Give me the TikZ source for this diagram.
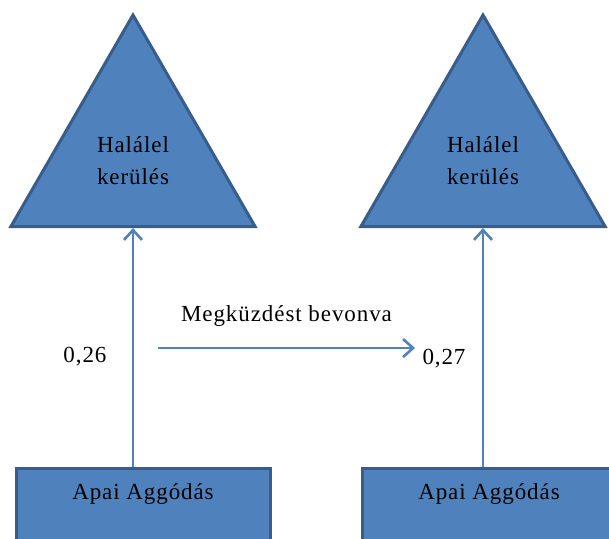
\documentclass[tikz,border=0pt]{standalone}
\usepackage{fontspec}
\setmainfont[LetterSpace=4]{Liberation Serif}
\usepackage{tikz}
\usetikzlibrary{arrows.meta, shapes.geometric}
\definecolor{boxfill}{HTML}{4F81BD}
\definecolor{boxline}{HTML}{385D8A}

\begin{document}
\begin{tikzpicture}[x=0.5pt, y=-0.5pt, font=\fontsize{11.5}{16}\selectfont,
    >={Straight Barb[length=5pt, width=9pt]},
    outcome/.style={regular polygon, regular polygon sides=3, minimum size=141pt,
      inner sep=0pt, draw=boxline, fill=boxfill, line width=1.5pt},
    predictor/.style={rectangle, anchor=north, minimum width=127pt, inner ysep=7pt,
      text height=8.5pt, text depth=30pt, draw=boxline, fill=boxfill, line width=1.5pt},
    path link/.style={->, draw=boxfill, line width=1.3pt}]
  \useasboundingbox (0,0) rectangle (609,538);
  \clip (0,0) rectangle (609,538);
  % top: outcomes
  \node[outcome] (lt) at (133,156) {};
  \node[outcome] (rt) at (483,156) {};
  \node[align=center] (lt text) at (133,161) {Halálel\\kerülés};
  \node[align=center] (rt text) at (483,161) {Halálel\\kerülés};
  % bottom: predictors
  \node[predictor] (lb) at (143,467) {Apai Aggódás};
  \node[predictor] (rb) at (489,467) {Apai Aggódás};
  % paths with coefficients
  \draw[path link] (lb.north -| lt.side 2) -- (lt.side 2);
  \draw[path link] (rb.north -| rt.side 2) -- (rt.side 2);
  \node (c1) at (85,357) {0,26};
  \node (c2) at (444,359) {0,27};
  % step from model without to model with coping
  \coordinate (hs) at (158,348);
  \coordinate (he) at (415,348);
  \draw[path link] (hs) -- (he) node[midway, above=7pt] (step) {Megküzdést bevonva};
\end{tikzpicture}
\end{document}
